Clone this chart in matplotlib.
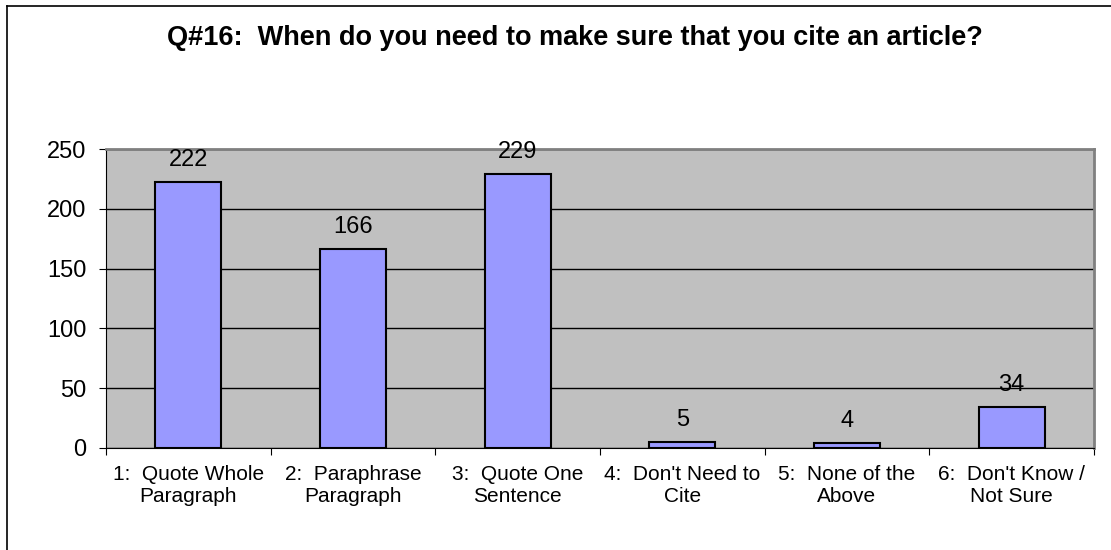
import matplotlib.pyplot as plt
import numpy as np

plt.rcParams['font.family'] = ['Liberation Sans', 'DejaVu Sans']

categories = ["1:  Quote Whole\nParagraph", "2:  Paraphrase\nParagraph",
              "3:  Quote One\nSentence", "4:  Don't Need to\nCite",
              "5:  None of the\nAbove", "6:  Don't Know /\nNot Sure"]
counts = [222, 166, 229, 5, 4, 34]
yticks = [0, 50, 100, 150, 200, 250]

fig = plt.figure(figsize=(11.11, 5.5), dpi=100)
ax = fig.add_axes([106/1111, 102/550, 988/1111, 299/550])

x = np.arange(len(categories))
ax.set_facecolor('#C0C0C0')
ax.set_axisbelow(True)
ax.yaxis.grid(True, color='black', linewidth=1)
ax.bar(x, counts, width=0.4, color='#9999FF', edgecolor='black', linewidth=1.5, zorder=3)

for xi, v in zip(x, counts):
    ax.annotate(str(v), (xi, v), xytext=(0, 8), textcoords='offset points',
                ha='center', va='bottom', fontsize=17)

ax.set_xlim(-0.5, len(categories) - 0.5)
ax.set_ylim(0, 250)
ax.set_yticks(yticks)
ax.tick_params(axis='y', labelsize=17, length=5, direction='out', pad=9)

# category labels between boundary ticks
ax.set_xticks(np.arange(len(categories) + 1) - 0.5)
ax.set_xticklabels([])
ax.tick_params(axis='x', length=5, direction='out')
for xi, lab in zip(x, categories):
    ax.text(xi, -14, lab, ha='center', va='top', fontsize=15,
            linespacing=1.22, transform=ax.transData)

for s in ['top', 'right']:
    ax.spines[s].set_color('#808080')
    ax.spines[s].set_linewidth(2)
for s in ['left', 'bottom']:
    ax.spines[s].set_color('black')

fig.text(575/1111, 1 - 38/550, 'Q#16:  When do you need to make sure that you cite an article?',
         ha='center', va='center', fontsize=19.5, fontweight='bold')

# outer chart frame
fig.add_artist(plt.Line2D([7/1111, 7/1111], [0, 1 - 6/550], color='black', linewidth=1.2))
fig.add_artist(plt.Line2D([7/1111, 1], [1 - 6/550, 1 - 6/550], color='black', linewidth=1.2))

fig.savefig('out.png', dpi=100)
